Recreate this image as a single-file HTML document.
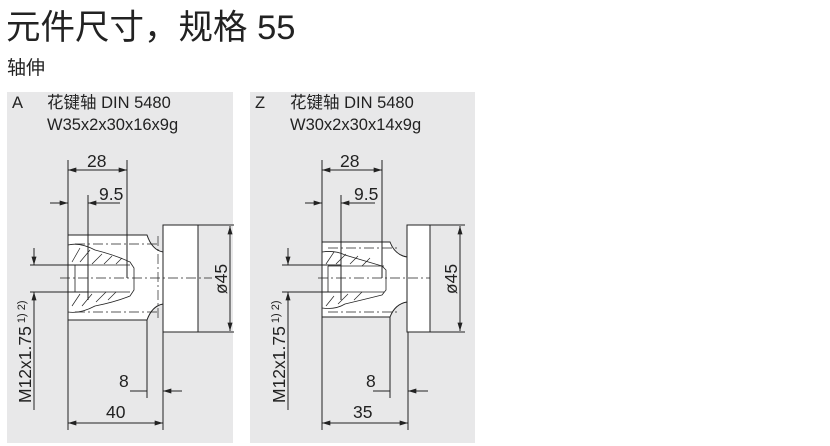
<!DOCTYPE html>
<html><head><meta charset="utf-8"><style>
body{margin:0;background:#fff;width:830px;height:446px;overflow:hidden;position:relative;font-family:"Liberation Sans","Noto Sans CJK SC",sans-serif;color:#222}
.t{position:absolute;left:6px;top:-1px;font-size:34.5px;white-space:nowrap}
.s{position:absolute;left:7px;top:53px;font-size:19px}
svg{position:absolute;left:0;top:0}
</style></head><body>
<div class="t">元件尺寸，规格 55</div>
<div class="s">轴伸</div>
<svg width="830" height="446" font-family="Liberation Sans, Noto Sans CJK SC, sans-serif" fill="#222">
<defs><marker id="a" viewBox="0 0 10 6" refX="10" refY="3" markerWidth="11" markerHeight="5" orient="auto-start-reverse" markerUnits="userSpaceOnUse"><path d="M0,0L10,3L0,6z" fill="#222"/></marker></defs>
<rect x="7" y="92" width="226" height="351" fill="#e8e8e9"/>
<rect x="250" y="92" width="225" height="351" fill="#e8e8e9"/>
<g font-size="16.5">
<text x="12" y="108">A</text><text x="47" y="108">花键轴 DIN 5480</text><text x="47" y="130">W35x2x30x16x9g</text>
<text x="255" y="108">Z</text><text x="290" y="108">花键轴 DIN 5480</text><text x="290" y="130">W30x2x30x14x9g</text>
</g>
<!-- Panel A -->
<g stroke="#222" fill="none" stroke-width="1">
<rect x="163" y="225" width="35" height="107" fill="#fff"/>
<path d="M68,235H147Q152,250 163,252V304Q152,306 147,320H68Z" fill="#fff"/>
<path d="M68,245Q80,242 95,250Q115,255 130,262L134,268V290L130,296Q115,302 95,306Q80,314 68,312" stroke-width="0.8"/>
<path d="M75,265H130M75,292H130M75,265V292M88,265V292" stroke-width="0.8"/>
<path d="M72,262l8,-14M80,262l10,-12M92,264l10,-10M104,264l8,-8M116,264l6,-6M72,306l8,-12M82,306l10,-12M96,302l10,-10M108,300l8,-8" stroke-width="0.7"/>
<path d="M60,278H212M75,244H160M75,312H160M158,236V320" stroke-dasharray="10,3,2,3" stroke-width="0.7"/>
<path d="M68,160V430M127,160V278M88,195V300M147,320V398M163,332V430M198,225H234M198,332H234M30,265H88M30,292H88M34,301V410"/>
<path d="M68,170H127" marker-start="url(#a)" marker-end="url(#a)"/>
<path d="M50,203H68" marker-end="url(#a)"/>
<path d="M120,203H88" marker-end="url(#a)"/>
<path d="M230,226V331" marker-start="url(#a)" marker-end="url(#a)"/>
<path d="M34,248V265" marker-end="url(#a)"/>
<path d="M34,310V292" marker-end="url(#a)"/>
<path d="M130,391H147M182,391H163" marker-end="url(#a)"/>
<path d="M68,423H163" marker-start="url(#a)" marker-end="url(#a)"/>
</g>
<g font-size="17.5">
<text x="87" y="167">28</text><text x="99" y="200">9.5</text><text x="119" y="387">8</text><text x="106" y="418">40</text>
<text transform="translate(227,279) rotate(-90)" text-anchor="middle">ø45</text>
<text transform="translate(31,403) rotate(-90)">M12x1.75<tspan font-size="11" dy="-6"> 1) 2)</tspan></text>
</g>
<!-- Panel Z -->
<g stroke="#222" fill="none" stroke-width="1">
<rect x="407" y="225" width="23" height="107" fill="#fff"/>
<path d="M322,242H390Q395,255 407,257V302Q395,304 390,317H322Z" fill="#fff"/>
<path d="M322,252Q335,250 345,255Q362,260 382,266L386,270V290L382,295Q362,300 345,304Q335,310 322,308" stroke-width="0.8"/>
<path d="M328,266H384M328,292H384M328,266V292M341,266V292" stroke-width="0.8"/>
<path d="M326,264l8,-12M336,264l10,-10M350,264l8,-8M362,266l8,-8M326,306l8,-10M338,304l10,-10M354,300l8,-8" stroke-width="0.7"/>
<path d="M318,278H430M328,248H400M328,312H400" stroke-dasharray="10,3,2,3" stroke-width="0.7"/>
<path d="M322,160V430M382,160V278M341,195V300M390,317V398M408,332V430M430,225H465M430,332H465M282,265H341M282,292H341M288,301V410"/>
<path d="M322,170H382" marker-start="url(#a)" marker-end="url(#a)"/>
<path d="M305,203H322" marker-end="url(#a)"/>
<path d="M375,203H341" marker-end="url(#a)"/>
<path d="M460,226V331" marker-start="url(#a)" marker-end="url(#a)"/>
<path d="M288,248V265" marker-end="url(#a)"/>
<path d="M288,310V292" marker-end="url(#a)"/>
<path d="M373,391H390M428,391H408" marker-end="url(#a)"/>
<path d="M322,423H408" marker-start="url(#a)" marker-end="url(#a)"/>
</g>
<g font-size="17.5">
<text x="340" y="167">28</text><text x="354" y="200">9.5</text><text x="366" y="387">8</text><text x="353" y="418">35</text>
<text transform="translate(457,279) rotate(-90)" text-anchor="middle">ø45</text>
<text transform="translate(285,403) rotate(-90)">M12x1.75<tspan font-size="11" dy="-6"> 1) 2)</tspan></text>
</g>
</svg>
</body></html>
